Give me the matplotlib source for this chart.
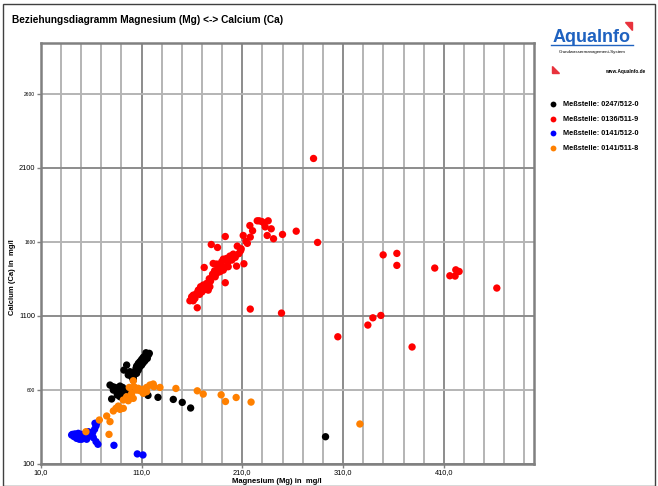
"""
plot.py
Beziehungsdiagramm Magnesium (Mg) <-> Calcium (Ca), AquaInfo style.
"""

import matplotlib
matplotlib.use("Agg")
import matplotlib.pyplot as plt
from matplotlib.patches import Polygon, Rectangle

plt.rcParams["font.family"] = ["Liberation Sans", "DejaVu Sans"]

# Messstellen (labels and colours)
stations = ["Meßstelle: 0247/512-0", "Meßstelle: 0136/511-9",
            "Meßstelle: 0141/512-0", "Meßstelle: 0141/511-8"]
station_colors = ["#000000", "#ff0000", "#0000ff", "#ff8000"]

# Meßstelle 0247/512-0 (black)
black_mg = [115.0, 116.7, 113.4, 111.7, 115.7, 110.1, 113.4, 108.4, 111.7, 106.8,
            110.1, 105.1, 108.4, 104.5, 106.8, 103.5, 105.1, 102.5, 100.2, 101.8,
            95.2, 92.5, 98.5, 96.8, 101.8, 78.7, 81.3, 83.6, 85.9, 88.6,
            91.2, 82.0, 85.3, 87.9, 90.2, 85.9, 88.6, 80.3, 93.5, 98.5,
            101.8, 116.4, 126.3, 141.5, 150.4, 158.7, 117.7, 114.4, 292.6]
black_ca = [842, 836, 829, 820, 813, 806, 797, 791, 784, 779,
            768, 761, 757, 746, 734, 723, 712, 701, 689, 678,
            768, 734, 723, 701, 667, 633, 622, 617, 611, 626,
            617, 599, 588, 595, 581, 566, 554, 539, 599, 577,
            611, 563, 550, 536, 516, 478, 847, 851, 284]

# Meßstelle 0136/511-9 (red)
red_mg = [280.7, 263.5, 284.7, 349.8, 363.4, 363.4, 401.0, 416.0, 421.2, 421.9,
          425.2, 462.6, 347.5, 339.6, 334.6, 304.8, 378.5,
          217.5, 220.2, 224.8, 226.8, 229.4, 231.4, 235.7, 232.7, 238.7, 234.7,
          241.0, 249.9, 210.9, 217.9, 213.6, 193.1, 179.2, 185.4, 205.0, 208.9,
          208.3, 201.0, 197.7, 194.4, 191.1, 199.7, 203.0, 211.6, 204.3, 196.0,
          192.7, 187.8, 184.5, 181.1, 191.1, 187.8, 184.5, 180.5, 183.1, 177.2,
          172.2, 193.1, 174.5, 171.2, 168.6, 177.8, 176.2, 172.9, 169.6, 166.3,
          164.6, 161.3, 159.7, 158.0, 161.3, 163.0, 165.3, 217.9, 248.9,
          186.0, 189.5, 195.5, 182.5, 178.5, 174.0, 170.0, 167.5, 206.5, 215.0]
red_ca = [2163, 1672, 1596, 1512, 1522, 1441, 1423, 1371, 1369, 1411,
          1400, 1288, 1103, 1087, 1038, 959, 890,
          1710, 1675, 1742, 1742, 1737, 1728, 1742, 1701, 1688, 1643,
          1621, 1650, 1643, 1632, 1603, 1636, 1582, 1562, 1571, 1553,
          1540, 1517, 1504, 1488, 1483, 1477, 1495, 1452, 1436, 1432,
          1427, 1443, 1450, 1454, 1409, 1398, 1387, 1382, 1364, 1351,
          1427, 1324, 1319, 1308, 1297, 1297, 1274, 1279, 1270, 1274,
          1252, 1240, 1229, 1202, 1202, 1218, 1155, 1146, 1119,
          1420, 1465, 1460, 1405, 1335, 1290, 1262, 1245, 1520, 1590]

# Meßstelle 0141/512-0 (blue)
blue_mg = [41.6, 43.9, 46.2, 48.9, 51.5, 53.9, 56.2, 58.8, 61.5, 63.4,
           64.8, 65.4, 42.9, 45.6, 48.2, 50.5, 52.9, 55.5, 47.2, 50.5,
           57.2, 62.1, 64.8, 66.7, 82.6, 105.8, 111.4, 40.6, 44.0, 63.8]
blue_ca = [300, 296, 289, 285, 280, 280, 285, 296, 312, 334,
           357, 375, 285, 273, 267, 267, 273, 267, 307, 300,
           318, 278, 251, 233, 226, 168, 161, 296, 303, 375]

# Meßstelle 0141/511-8 (orange)
orange_mg = [120.0, 122.3, 128.3, 144.1, 165.3, 171.2, 189.0, 193.3, 203.9, 218.7,
             101.8, 97.8, 102.5, 105.1, 108.4, 111.7, 115.0, 118.3, 121.6, 111.7,
             115.0, 100.2, 95.2, 98.5, 91.9, 96.8, 101.8, 86.9, 84.6, 88.6,
             91.9, 82.0, 75.4, 78.7, 68.1, 54.8, 77.7, 113.4, 106.8, 326.7]
orange_ca = [633, 622, 617, 610, 594, 572, 567, 522, 549, 518,
             662, 617, 622, 599, 595, 604, 617, 633, 640, 577,
             588, 577, 554, 543, 532, 527, 543, 491, 476, 469,
             476, 458, 424, 386, 397, 318, 300, 599, 611, 370]

x_major = [10, 110, 210, 310, 410]
x_major_labels = ["10,0", "110,0", "210,0", "310,0", "410,0"]
y_major = [100, 1100, 2100]
y_minor = [600, 1600, 2600]

fig = plt.figure(figsize=(6.58, 4.86), dpi=100)
ax = fig.add_axes([0.062, 0.0453, 0.7503, 0.8654])

series = [(black_mg, black_ca), (red_mg, red_ca), (blue_mg, blue_ca), (orange_mg, orange_ca)]
for (xs, ys), col in zip(series, station_colors):
    ax.scatter(xs, ys, s=28, color=col, edgecolors="none", zorder=3)

ax.set_xlim(10, 500)
ax.set_ylim(100, 2940)

ax.set_xticks(x_major)
ax.set_xticklabels(x_major_labels, fontsize=5.3)
ax.set_xticks([v for v in range(30, 500, 20) if v not in x_major], minor=True)
ax.set_yticks(y_major)
ax.set_yticklabels([str(v) for v in y_major], fontsize=5.3)
ax.set_yticks(y_minor, minor=True)
ax.set_yticklabels([str(v) for v in y_minor], minor=True, fontsize=3.5)

ax.tick_params(axis="x", which="major", length=3, width=1, color="#808080", pad=1)
ax.tick_params(axis="x", which="minor", length=0)
ax.tick_params(axis="y", which="both", length=3, width=1, color="#808080", pad=1)

ax.grid(True, which="major", color="#8c8c8c", linewidth=1.4, zorder=0)
ax.grid(True, which="minor", color="#b4b4b4", linewidth=1.4, zorder=0)
ax.set_axisbelow(True)
for sp in ax.spines.values():
    sp.set_color("#808080")
    sp.set_linewidth(1.8)

# Title and axis labels
fig.text(12 / 658, 1 - 20 / 486, "Beziehungsdiagramm Magnesium (Mg) <-> Calcium (Ca)",
         fontsize=7.3, fontweight="bold", va="center", ha="left")
fig.text(13 / 658, 1 - 277 / 486, "Calcium (Ca) in  mg/l", rotation=90,
         fontsize=5.5, fontweight="bold", va="center", ha="center")
fig.text(277 / 658, 1 - 478 / 486, "Magnesium (Mg) in  mg/l",
         fontsize=5.5, fontweight="bold", va="top", ha="center")

# Outer frame
fig.patches.append(Rectangle((3 / 658, 0), 652 / 658, 1 - 4 / 486, transform=fig.transFigure,
                             fill=False, edgecolor="#404040", linewidth=1))

# Logo
fig.text(592 / 658, 1 - 37 / 486, "AquaInfo", fontsize=13, fontweight="bold",
         color="#1f62c0", ha="center", va="center")
fig.lines.append(plt.Line2D([551 / 658, 633 / 658], [1 - 45.5 / 486, 1 - 45.5 / 486],
                            transform=fig.transFigure, color="#1f62c0", linewidth=1))
fig.text(592 / 658, 1 - 52 / 486, "Grundwassermanagement-System", fontsize=3.2,
         ha="center", va="center")
fig.text(645 / 658, 1 - 71 / 486, "www.AquaInfo.de", fontsize=3.4, fontweight="bold",
         ha="right", va="center")
fig.patches.append(Polygon([(625 / 658, 1 - 22.5 / 486), (632 / 658, 1 - 22.5 / 486),
                            (632 / 658, 1 - 30 / 486)], closed=True,
                           transform=fig.transFigure, color="#e8323c"))
fig.patches.append(Polygon([(551.5 / 658, 1 - 66.5 / 486), (551.5 / 658, 1 - 73.5 / 486),
                            (558.5 / 658, 1 - 73.5 / 486)], closed=True,
                           transform=fig.transFigure, color="#e8323c"))

# Legend
legend_y = [104, 119, 133.5, 148]
for name, col, yy in zip(stations, station_colors, legend_y):
    fig.lines.append(plt.Line2D([553 / 658], [1 - yy / 486], transform=fig.transFigure,
                                marker="o", markersize=4.2, color=col, markeredgewidth=0,
                                linestyle="none"))
    fig.text(563 / 658, 1 - yy / 486, name, fontsize=5.3, fontweight="bold",
             ha="left", va="center")

fig.savefig("out.png", dpi=100)
plt.close(fig)
